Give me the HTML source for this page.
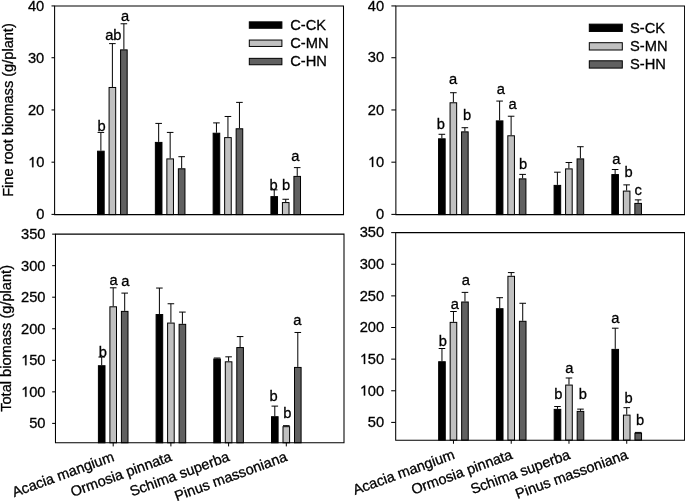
<!DOCTYPE html>
<html><head><meta charset="utf-8"><style>
html,body{margin:0;padding:0;background:#fff;}
svg{display:block;will-change:transform;}
text{font-family:"Liberation Sans", sans-serif;font-size:14.7px;fill:#000;stroke:#000;stroke-width:0.3px;}
</style></head><body>
<svg width="685" height="501" viewBox="0 0 685 501">
<line x1="100.88" y1="150.69" x2="100.88" y2="132.41" stroke="#000" stroke-width="1"/>
<line x1="97.58" y1="132.41" x2="104.18" y2="132.41" stroke="#000" stroke-width="1"/>
<rect x="97.58" y="151.19" width="6.6" height="63.41" fill="#000000" stroke="#000" stroke-width="1"/>
<line x1="112.38" y1="86.97" x2="112.38" y2="43.62" stroke="#000" stroke-width="1"/>
<line x1="109.08" y1="43.62" x2="115.68" y2="43.62" stroke="#000" stroke-width="1"/>
<rect x="109.08" y="87.47" width="6.6" height="127.13" fill="#c0c0c0" stroke="#000" stroke-width="1"/>
<line x1="123.88" y1="49.37" x2="123.88" y2="23.78" stroke="#000" stroke-width="1"/>
<line x1="120.58" y1="23.78" x2="127.18" y2="23.78" stroke="#000" stroke-width="1"/>
<rect x="120.58" y="49.87" width="6.6" height="164.73" fill="#606060" stroke="#000" stroke-width="1"/>
<line x1="158.66" y1="141.91" x2="158.66" y2="123.42" stroke="#000" stroke-width="1"/>
<line x1="155.36" y1="123.42" x2="161.96" y2="123.42" stroke="#000" stroke-width="1"/>
<rect x="155.36" y="142.41" width="6.6" height="72.19" fill="#000000" stroke="#000" stroke-width="1"/>
<line x1="170.16" y1="158.41" x2="170.16" y2="132.41" stroke="#000" stroke-width="1"/>
<line x1="166.86" y1="132.41" x2="173.46" y2="132.41" stroke="#000" stroke-width="1"/>
<rect x="166.86" y="158.91" width="6.6" height="55.69" fill="#c0c0c0" stroke="#000" stroke-width="1"/>
<line x1="181.66" y1="168.29" x2="181.66" y2="156.69" stroke="#000" stroke-width="1"/>
<line x1="178.36" y1="156.69" x2="184.96" y2="156.69" stroke="#000" stroke-width="1"/>
<rect x="178.36" y="168.79" width="6.6" height="45.81" fill="#606060" stroke="#000" stroke-width="1"/>
<line x1="216.44" y1="132.72" x2="216.44" y2="122.9" stroke="#000" stroke-width="1"/>
<line x1="213.14" y1="122.9" x2="219.74" y2="122.9" stroke="#000" stroke-width="1"/>
<rect x="213.14" y="133.22" width="6.6" height="81.38" fill="#000000" stroke="#000" stroke-width="1"/>
<line x1="227.94" y1="137.11" x2="227.94" y2="116.48" stroke="#000" stroke-width="1"/>
<line x1="224.64" y1="116.48" x2="231.24" y2="116.48" stroke="#000" stroke-width="1"/>
<rect x="224.64" y="137.61" width="6.6" height="76.99" fill="#c0c0c0" stroke="#000" stroke-width="1"/>
<line x1="239.44" y1="128.28" x2="239.44" y2="102.38" stroke="#000" stroke-width="1"/>
<line x1="236.14" y1="102.38" x2="242.74" y2="102.38" stroke="#000" stroke-width="1"/>
<rect x="236.14" y="128.78" width="6.6" height="85.82" fill="#606060" stroke="#000" stroke-width="1"/>
<line x1="274.22" y1="196.12" x2="274.22" y2="189.85" stroke="#000" stroke-width="1"/>
<line x1="270.92" y1="189.85" x2="277.52" y2="189.85" stroke="#000" stroke-width="1"/>
<rect x="270.92" y="196.62" width="6.6" height="17.98" fill="#000000" stroke="#000" stroke-width="1"/>
<line x1="285.72" y1="202.07" x2="285.72" y2="199.25" stroke="#000" stroke-width="1"/>
<line x1="282.42" y1="199.25" x2="289.02" y2="199.25" stroke="#000" stroke-width="1"/>
<rect x="282.42" y="202.57" width="6.6" height="12.03" fill="#c0c0c0" stroke="#000" stroke-width="1"/>
<line x1="297.22" y1="175.91" x2="297.22" y2="167.61" stroke="#000" stroke-width="1"/>
<line x1="293.92" y1="167.61" x2="300.52" y2="167.61" stroke="#000" stroke-width="1"/>
<rect x="293.92" y="176.41" width="6.6" height="38.19" fill="#606060" stroke="#000" stroke-width="1"/>
<path d="M 54.6 5.93 H 343.5 V 214.6 H 54.6 Z" fill="none" stroke="#000" stroke-width="1.05"/>
<line x1="51.5" y1="214.4" x2="54.6" y2="214.4" stroke="#000" stroke-width="1.05"/>
<text x="44.3" y="219.4" text-anchor="end">0</text>
<line x1="51.5" y1="162.18" x2="54.6" y2="162.18" stroke="#000" stroke-width="1.05"/>
<text x="44.3" y="167.18" text-anchor="end">0</text>
<path d="M 33.43 167.18 L 32.13 167.18 L 32.13 158.94 C 31.83 159.24, 31.42 159.54, 30.91 159.83 C 30.48 160.08, 30.1 160.28, 29.78 160.43 L 29.78 159.21 C 30.43 158.88, 30.96 158.48, 31.47 158 C 32.01 157.51, 32.4 157.2, 32.59 157.06 L 33.43 157.06 Z" fill="#000" stroke="#000" stroke-width="0.3"/>
<line x1="51.5" y1="109.95" x2="54.6" y2="109.95" stroke="#000" stroke-width="1.05"/>
<text x="44.3" y="114.95" text-anchor="end">20</text>
<line x1="51.5" y1="57.72" x2="54.6" y2="57.72" stroke="#000" stroke-width="1.05"/>
<text x="44.3" y="62.72" text-anchor="end">30</text>
<line x1="51.5" y1="5.93" x2="54.6" y2="5.93" stroke="#000" stroke-width="1.05"/>
<text x="44.3" y="10.93" text-anchor="end">40</text>
<text x="101.5" y="130.5" text-anchor="middle">b</text>
<text x="113.35" y="39.5" text-anchor="middle">ab</text>
<text x="125.2" y="21" text-anchor="middle">a</text>
<text x="273.7" y="190.4" text-anchor="middle">b</text>
<text x="286" y="190.4" text-anchor="middle">b</text>
<text x="295.35" y="160.7" text-anchor="middle">a</text>
<line x1="441.86" y1="138.31" x2="441.86" y2="134.29" stroke="#000" stroke-width="1"/>
<line x1="438.56" y1="134.29" x2="445.16" y2="134.29" stroke="#000" stroke-width="1"/>
<rect x="438.56" y="138.81" width="6.6" height="75.79" fill="#000000" stroke="#000" stroke-width="1"/>
<line x1="453.36" y1="102.27" x2="453.36" y2="92.72" stroke="#000" stroke-width="1"/>
<line x1="450.06" y1="92.72" x2="456.66" y2="92.72" stroke="#000" stroke-width="1"/>
<rect x="450.06" y="102.77" width="6.6" height="111.83" fill="#c0c0c0" stroke="#000" stroke-width="1"/>
<line x1="464.86" y1="131.36" x2="464.86" y2="127.71" stroke="#000" stroke-width="1"/>
<line x1="461.56" y1="127.71" x2="468.16" y2="127.71" stroke="#000" stroke-width="1"/>
<rect x="461.56" y="131.86" width="6.6" height="82.74" fill="#606060" stroke="#000" stroke-width="1"/>
<line x1="499.62" y1="120.39" x2="499.62" y2="101.07" stroke="#000" stroke-width="1"/>
<line x1="496.32" y1="101.07" x2="502.92" y2="101.07" stroke="#000" stroke-width="1"/>
<rect x="496.32" y="120.89" width="6.6" height="93.7" fill="#000000" stroke="#000" stroke-width="1"/>
<line x1="511.12" y1="135.28" x2="511.12" y2="116.22" stroke="#000" stroke-width="1"/>
<line x1="507.82" y1="116.22" x2="514.42" y2="116.22" stroke="#000" stroke-width="1"/>
<rect x="507.82" y="135.78" width="6.6" height="78.82" fill="#c0c0c0" stroke="#000" stroke-width="1"/>
<line x1="522.62" y1="178.36" x2="522.62" y2="174.4" stroke="#000" stroke-width="1"/>
<line x1="519.32" y1="174.4" x2="525.92" y2="174.4" stroke="#000" stroke-width="1"/>
<rect x="519.32" y="178.86" width="6.6" height="35.74" fill="#606060" stroke="#000" stroke-width="1"/>
<line x1="557.38" y1="184.89" x2="557.38" y2="172.2" stroke="#000" stroke-width="1"/>
<line x1="554.08" y1="172.2" x2="560.68" y2="172.2" stroke="#000" stroke-width="1"/>
<rect x="554.08" y="185.39" width="6.6" height="29.21" fill="#000000" stroke="#000" stroke-width="1"/>
<line x1="568.88" y1="168.39" x2="568.88" y2="162.49" stroke="#000" stroke-width="1"/>
<line x1="565.58" y1="162.49" x2="572.18" y2="162.49" stroke="#000" stroke-width="1"/>
<rect x="565.58" y="168.89" width="6.6" height="45.71" fill="#c0c0c0" stroke="#000" stroke-width="1"/>
<line x1="580.38" y1="158.41" x2="580.38" y2="146.72" stroke="#000" stroke-width="1"/>
<line x1="577.08" y1="146.72" x2="583.68" y2="146.72" stroke="#000" stroke-width="1"/>
<rect x="577.08" y="158.91" width="6.6" height="55.69" fill="#606060" stroke="#000" stroke-width="1"/>
<line x1="615.14" y1="174.08" x2="615.14" y2="169.49" stroke="#000" stroke-width="1"/>
<line x1="611.84" y1="169.49" x2="618.44" y2="169.49" stroke="#000" stroke-width="1"/>
<rect x="611.84" y="174.58" width="6.6" height="40.02" fill="#000000" stroke="#000" stroke-width="1"/>
<line x1="626.64" y1="190.59" x2="626.64" y2="184.89" stroke="#000" stroke-width="1"/>
<line x1="623.34" y1="184.89" x2="629.94" y2="184.89" stroke="#000" stroke-width="1"/>
<rect x="623.34" y="191.09" width="6.6" height="23.51" fill="#c0c0c0" stroke="#000" stroke-width="1"/>
<line x1="638.14" y1="202.91" x2="638.14" y2="199.88" stroke="#000" stroke-width="1"/>
<line x1="634.84" y1="199.88" x2="641.44" y2="199.88" stroke="#000" stroke-width="1"/>
<rect x="634.84" y="203.41" width="6.6" height="11.19" fill="#606060" stroke="#000" stroke-width="1"/>
<path d="M 395.87 5.93 H 684.6 V 214.6 H 395.87 Z" fill="none" stroke="#000" stroke-width="1.05"/>
<line x1="391.37" y1="214.4" x2="395.87" y2="214.4" stroke="#000" stroke-width="1.05"/>
<text x="384.1" y="219.1" text-anchor="end">0</text>
<line x1="391.37" y1="162.18" x2="395.87" y2="162.18" stroke="#000" stroke-width="1.05"/>
<text x="384.1" y="166.88" text-anchor="end">0</text>
<path d="M 373.23 166.88 L 371.93 166.88 L 371.93 158.64 C 371.63 158.94, 371.22 159.24, 370.71 159.53 C 370.28 159.78, 369.9 159.98, 369.58 160.13 L 369.58 158.91 C 370.23 158.58, 370.76 158.18, 371.27 157.7 C 371.81 157.21, 372.2 156.9, 372.39 156.76 L 373.23 156.76 Z" fill="#000" stroke="#000" stroke-width="0.3"/>
<line x1="391.37" y1="109.95" x2="395.87" y2="109.95" stroke="#000" stroke-width="1.05"/>
<text x="384.1" y="114.65" text-anchor="end">20</text>
<line x1="391.37" y1="57.72" x2="395.87" y2="57.72" stroke="#000" stroke-width="1.05"/>
<text x="384.1" y="62.42" text-anchor="end">30</text>
<line x1="391.37" y1="5.93" x2="395.87" y2="5.93" stroke="#000" stroke-width="1.05"/>
<text x="384.1" y="10.63" text-anchor="end">40</text>
<text x="440.9" y="129.4" text-anchor="middle">b</text>
<text x="453.2" y="84.2" text-anchor="middle">a</text>
<text x="467.1" y="120.4" text-anchor="middle">b</text>
<text x="500.8" y="93.9" text-anchor="middle">a</text>
<text x="512.6" y="109.2" text-anchor="middle">a</text>
<text x="523.1" y="169.4" text-anchor="middle">b</text>
<text x="616.4" y="163.6" text-anchor="middle">a</text>
<text x="628.5" y="177.3" text-anchor="middle">b</text>
<text x="638.1" y="195.3" text-anchor="middle">c</text>
<line x1="101.7" y1="365.22" x2="101.7" y2="357.02" stroke="#000" stroke-width="1"/>
<line x1="98.4" y1="357.02" x2="105" y2="357.02" stroke="#000" stroke-width="1"/>
<rect x="98.4" y="365.72" width="6.6" height="77.08" fill="#000000" stroke="#000" stroke-width="1"/>
<line x1="113.2" y1="306.29" x2="113.2" y2="287.8" stroke="#000" stroke-width="1"/>
<line x1="109.9" y1="287.8" x2="116.5" y2="287.8" stroke="#000" stroke-width="1"/>
<rect x="109.9" y="306.79" width="6.6" height="136.01" fill="#c0c0c0" stroke="#000" stroke-width="1"/>
<line x1="124.7" y1="310.89" x2="124.7" y2="293.1" stroke="#000" stroke-width="1"/>
<line x1="121.4" y1="293.1" x2="128" y2="293.1" stroke="#000" stroke-width="1"/>
<rect x="121.4" y="311.39" width="6.6" height="131.41" fill="#606060" stroke="#000" stroke-width="1"/>
<line x1="113.2" y1="442.8" x2="113.2" y2="446.4" stroke="#000" stroke-width="1"/>
<text x="115" y="460.6" text-anchor="end" style="font-size:14.5px" transform="rotate(-20 115 460.6)">Acacia mangium</text>
<line x1="159.4" y1="314.05" x2="159.4" y2="288.05" stroke="#000" stroke-width="1"/>
<line x1="156.1" y1="288.05" x2="162.7" y2="288.05" stroke="#000" stroke-width="1"/>
<rect x="156.1" y="314.55" width="6.6" height="128.25" fill="#000000" stroke="#000" stroke-width="1"/>
<line x1="170.9" y1="322.57" x2="170.9" y2="303.76" stroke="#000" stroke-width="1"/>
<line x1="167.6" y1="303.76" x2="174.2" y2="303.76" stroke="#000" stroke-width="1"/>
<rect x="167.6" y="323.07" width="6.6" height="119.73" fill="#c0c0c0" stroke="#000" stroke-width="1"/>
<line x1="182.4" y1="323.83" x2="182.4" y2="312.09" stroke="#000" stroke-width="1"/>
<line x1="179.1" y1="312.09" x2="185.7" y2="312.09" stroke="#000" stroke-width="1"/>
<rect x="179.1" y="324.33" width="6.6" height="118.47" fill="#606060" stroke="#000" stroke-width="1"/>
<line x1="170.9" y1="442.8" x2="170.9" y2="446.4" stroke="#000" stroke-width="1"/>
<text x="172.7" y="460.6" text-anchor="end" style="font-size:14.5px" transform="rotate(-20 172.7 460.6)">Ormosia pinnata</text>
<line x1="217.1" y1="358.53" x2="217.1" y2="358.03" stroke="#000" stroke-width="1"/>
<line x1="213.8" y1="358.03" x2="220.4" y2="358.03" stroke="#000" stroke-width="1"/>
<rect x="213.8" y="359.03" width="6.6" height="83.77" fill="#000000" stroke="#000" stroke-width="1"/>
<line x1="228.6" y1="361.31" x2="228.6" y2="356.83" stroke="#000" stroke-width="1"/>
<line x1="225.3" y1="356.83" x2="231.9" y2="356.83" stroke="#000" stroke-width="1"/>
<rect x="225.3" y="361.81" width="6.6" height="80.99" fill="#c0c0c0" stroke="#000" stroke-width="1"/>
<line x1="240.1" y1="347.05" x2="240.1" y2="336.57" stroke="#000" stroke-width="1"/>
<line x1="236.8" y1="336.57" x2="243.4" y2="336.57" stroke="#000" stroke-width="1"/>
<rect x="236.8" y="347.55" width="6.6" height="95.25" fill="#606060" stroke="#000" stroke-width="1"/>
<line x1="228.6" y1="442.8" x2="228.6" y2="446.4" stroke="#000" stroke-width="1"/>
<text x="230.4" y="460.6" text-anchor="end" style="font-size:14.5px" transform="rotate(-20 230.4 460.6)">Schima superba</text>
<line x1="274.8" y1="416.21" x2="274.8" y2="406.11" stroke="#000" stroke-width="1"/>
<line x1="271.5" y1="406.11" x2="278.1" y2="406.11" stroke="#000" stroke-width="1"/>
<rect x="271.5" y="416.71" width="6.6" height="26.09" fill="#000000" stroke="#000" stroke-width="1"/>
<line x1="286.3" y1="426.18" x2="286.3" y2="425.67" stroke="#000" stroke-width="1"/>
<line x1="283" y1="425.67" x2="289.6" y2="425.67" stroke="#000" stroke-width="1"/>
<rect x="283" y="426.68" width="6.6" height="16.12" fill="#c0c0c0" stroke="#000" stroke-width="1"/>
<line x1="297.8" y1="366.93" x2="297.8" y2="332.47" stroke="#000" stroke-width="1"/>
<line x1="294.5" y1="332.47" x2="301.1" y2="332.47" stroke="#000" stroke-width="1"/>
<rect x="294.5" y="367.43" width="6.6" height="75.37" fill="#606060" stroke="#000" stroke-width="1"/>
<line x1="286.3" y1="442.8" x2="286.3" y2="446.4" stroke="#000" stroke-width="1"/>
<text x="288.1" y="460.6" text-anchor="end" style="font-size:14.5px" transform="rotate(-20 288.1 460.6)">Pinus massoniana</text>
<path d="M 55.47 234.14 H 344 V 442.8 H 55.47 Z" fill="none" stroke="#000" stroke-width="1.05"/>
<line x1="52.17" y1="423.4" x2="55.47" y2="423.4" stroke="#000" stroke-width="1.05"/>
<text x="45.5" y="428.3" text-anchor="end">50</text>
<line x1="52.17" y1="391.85" x2="55.47" y2="391.85" stroke="#000" stroke-width="1.05"/>
<text x="45.5" y="396.75" text-anchor="end">00</text>
<path d="M 26.45 396.75 L 25.16 396.75 L 25.16 388.52 C 24.85 388.81, 24.44 389.11, 23.94 389.41 C 23.51 389.66, 23.13 389.86, 22.8 390 L 22.8 388.78 C 23.45 388.46, 23.99 388.05, 24.49 387.58 C 25.04 387.09, 25.42 386.77, 25.61 386.64 L 26.45 386.64 Z" fill="#000" stroke="#000" stroke-width="0.3"/>
<line x1="52.17" y1="360.3" x2="55.47" y2="360.3" stroke="#000" stroke-width="1.05"/>
<text x="45.5" y="365.2" text-anchor="end">50</text>
<path d="M 26.45 365.2 L 25.16 365.2 L 25.16 356.97 C 24.85 357.26, 24.44 357.56, 23.94 357.86 C 23.51 358.11, 23.13 358.31, 22.8 358.45 L 22.8 357.23 C 23.45 356.91, 23.99 356.5, 24.49 356.03 C 25.04 355.54, 25.42 355.22, 25.61 355.09 L 26.45 355.09 Z" fill="#000" stroke="#000" stroke-width="0.3"/>
<line x1="52.17" y1="328.75" x2="55.47" y2="328.75" stroke="#000" stroke-width="1.05"/>
<text x="45.5" y="333.65" text-anchor="end">200</text>
<line x1="52.17" y1="297.2" x2="55.47" y2="297.2" stroke="#000" stroke-width="1.05"/>
<text x="45.5" y="302.1" text-anchor="end">250</text>
<line x1="52.17" y1="265.65" x2="55.47" y2="265.65" stroke="#000" stroke-width="1.05"/>
<text x="45.5" y="270.55" text-anchor="end">300</text>
<line x1="52.17" y1="234.14" x2="55.47" y2="234.14" stroke="#000" stroke-width="1.05"/>
<text x="45.5" y="239.04" text-anchor="end">350</text>
<text x="102.85" y="357.4" text-anchor="middle">b</text>
<text x="113.65" y="284.7" text-anchor="middle">a</text>
<text x="125.3" y="285.6" text-anchor="middle">a</text>
<text x="273.6" y="400.8" text-anchor="middle">b</text>
<text x="287.4" y="417.7" text-anchor="middle">b</text>
<text x="297.4" y="324.8" text-anchor="middle">a</text>
<line x1="441.96" y1="361.23" x2="441.96" y2="348.51" stroke="#000" stroke-width="1"/>
<line x1="438.66" y1="348.51" x2="445.26" y2="348.51" stroke="#000" stroke-width="1"/>
<rect x="438.66" y="361.73" width="6.6" height="78.42" fill="#000000" stroke="#000" stroke-width="1"/>
<line x1="453.46" y1="321.87" x2="453.46" y2="311.5" stroke="#000" stroke-width="1"/>
<line x1="450.16" y1="311.5" x2="456.76" y2="311.5" stroke="#000" stroke-width="1"/>
<rect x="450.16" y="322.37" width="6.6" height="117.78" fill="#c0c0c0" stroke="#000" stroke-width="1"/>
<line x1="464.96" y1="301.5" x2="464.96" y2="292.39" stroke="#000" stroke-width="1"/>
<line x1="461.66" y1="292.39" x2="468.26" y2="292.39" stroke="#000" stroke-width="1"/>
<rect x="461.66" y="302" width="6.6" height="138.15" fill="#606060" stroke="#000" stroke-width="1"/>
<line x1="453.46" y1="440.15" x2="453.46" y2="443.75" stroke="#000" stroke-width="1"/>
<text x="455.66" y="458.45" text-anchor="end" style="font-size:14.5px" transform="rotate(-20 455.66 458.45)">Acacia mangium</text>
<line x1="499.72" y1="308.21" x2="499.72" y2="297.7" stroke="#000" stroke-width="1"/>
<line x1="496.42" y1="297.7" x2="503.02" y2="297.7" stroke="#000" stroke-width="1"/>
<rect x="496.42" y="308.71" width="6.6" height="131.44" fill="#000000" stroke="#000" stroke-width="1"/>
<line x1="511.22" y1="275.81" x2="511.22" y2="272.59" stroke="#000" stroke-width="1"/>
<line x1="507.92" y1="272.59" x2="514.52" y2="272.59" stroke="#000" stroke-width="1"/>
<rect x="507.92" y="276.31" width="6.6" height="163.84" fill="#c0c0c0" stroke="#000" stroke-width="1"/>
<line x1="522.72" y1="320.8" x2="522.72" y2="303.27" stroke="#000" stroke-width="1"/>
<line x1="519.42" y1="303.27" x2="526.02" y2="303.27" stroke="#000" stroke-width="1"/>
<rect x="519.42" y="321.3" width="6.6" height="118.85" fill="#606060" stroke="#000" stroke-width="1"/>
<line x1="511.22" y1="440.15" x2="511.22" y2="443.75" stroke="#000" stroke-width="1"/>
<text x="513.42" y="458.45" text-anchor="end" style="font-size:14.5px" transform="rotate(-20 513.42 458.45)">Ormosia pinnata</text>
<line x1="557.48" y1="408.87" x2="557.48" y2="406.53" stroke="#000" stroke-width="1"/>
<line x1="554.18" y1="406.53" x2="560.78" y2="406.53" stroke="#000" stroke-width="1"/>
<rect x="554.18" y="409.37" width="6.6" height="30.78" fill="#000000" stroke="#000" stroke-width="1"/>
<line x1="568.98" y1="384.57" x2="568.98" y2="377.99" stroke="#000" stroke-width="1"/>
<line x1="565.68" y1="377.99" x2="572.28" y2="377.99" stroke="#000" stroke-width="1"/>
<rect x="565.68" y="385.07" width="6.6" height="55.08" fill="#c0c0c0" stroke="#000" stroke-width="1"/>
<line x1="580.48" y1="410.89" x2="580.48" y2="409.12" stroke="#000" stroke-width="1"/>
<line x1="577.18" y1="409.12" x2="583.78" y2="409.12" stroke="#000" stroke-width="1"/>
<rect x="577.18" y="411.39" width="6.6" height="28.76" fill="#606060" stroke="#000" stroke-width="1"/>
<line x1="568.98" y1="440.15" x2="568.98" y2="443.75" stroke="#000" stroke-width="1"/>
<text x="571.18" y="458.45" text-anchor="end" style="font-size:14.5px" transform="rotate(-20 571.18 458.45)">Schima superba</text>
<line x1="615.24" y1="348.89" x2="615.24" y2="328.2" stroke="#000" stroke-width="1"/>
<line x1="611.94" y1="328.2" x2="618.54" y2="328.2" stroke="#000" stroke-width="1"/>
<rect x="611.94" y="349.39" width="6.6" height="90.76" fill="#000000" stroke="#000" stroke-width="1"/>
<line x1="626.74" y1="414.63" x2="626.74" y2="407.67" stroke="#000" stroke-width="1"/>
<line x1="623.44" y1="407.67" x2="630.04" y2="407.67" stroke="#000" stroke-width="1"/>
<rect x="623.44" y="415.13" width="6.6" height="25.02" fill="#c0c0c0" stroke="#000" stroke-width="1"/>
<line x1="638.24" y1="432.79" x2="638.24" y2="432.41" stroke="#000" stroke-width="1"/>
<line x1="634.94" y1="432.41" x2="641.54" y2="432.41" stroke="#000" stroke-width="1"/>
<rect x="634.94" y="433.29" width="6.6" height="6.86" fill="#606060" stroke="#000" stroke-width="1"/>
<line x1="626.74" y1="440.15" x2="626.74" y2="443.75" stroke="#000" stroke-width="1"/>
<text x="628.94" y="458.45" text-anchor="end" style="font-size:14.5px" transform="rotate(-20 628.94 458.45)">Pinus massoniana</text>
<path d="M 395.69 232.62 H 684.6 V 440.15 H 395.69 Z" fill="none" stroke="#000" stroke-width="1.05"/>
<line x1="391.19" y1="422.41" x2="395.69" y2="422.41" stroke="#000" stroke-width="1.05"/>
<text x="384.2" y="427.16" text-anchor="end">50</text>
<line x1="391.19" y1="390.77" x2="395.69" y2="390.77" stroke="#000" stroke-width="1.05"/>
<text x="384.2" y="395.52" text-anchor="end">00</text>
<path d="M 365.15 395.52 L 363.86 395.52 L 363.86 387.29 C 363.55 387.59, 363.14 387.89, 362.64 388.18 C 362.21 388.43, 361.83 388.63, 361.5 388.78 L 361.5 387.56 C 362.15 387.23, 362.69 386.83, 363.19 386.35 C 363.74 385.86, 364.12 385.55, 364.31 385.41 L 365.15 385.41 Z" fill="#000" stroke="#000" stroke-width="0.3"/>
<line x1="391.19" y1="359.14" x2="395.69" y2="359.14" stroke="#000" stroke-width="1.05"/>
<text x="384.2" y="363.89" text-anchor="end">50</text>
<path d="M 365.15 363.89 L 363.86 363.89 L 363.86 355.66 C 363.55 355.95, 363.14 356.25, 362.64 356.55 C 362.21 356.8, 361.83 357, 361.5 357.14 L 361.5 355.92 C 362.15 355.6, 362.69 355.19, 363.19 354.72 C 363.74 354.23, 364.12 353.91, 364.31 353.78 L 365.15 353.78 Z" fill="#000" stroke="#000" stroke-width="0.3"/>
<line x1="391.19" y1="327.5" x2="395.69" y2="327.5" stroke="#000" stroke-width="1.05"/>
<text x="384.2" y="332.25" text-anchor="end">200</text>
<line x1="391.19" y1="295.87" x2="395.69" y2="295.87" stroke="#000" stroke-width="1.05"/>
<text x="384.2" y="300.62" text-anchor="end">250</text>
<line x1="391.19" y1="264.24" x2="395.69" y2="264.24" stroke="#000" stroke-width="1.05"/>
<text x="384.2" y="268.99" text-anchor="end">300</text>
<line x1="391.19" y1="232.62" x2="395.69" y2="232.62" stroke="#000" stroke-width="1.05"/>
<text x="384.2" y="237.37" text-anchor="end">350</text>
<text x="442.85" y="345.7" text-anchor="middle">b</text>
<text x="454.8" y="309" text-anchor="middle">a</text>
<text x="465.8" y="285.1" text-anchor="middle">a</text>
<text x="558.3" y="399.4" text-anchor="middle">b</text>
<text x="569.4" y="372.5" text-anchor="middle">a</text>
<text x="582.75" y="399.4" text-anchor="middle">b</text>
<text x="615.3" y="323.1" text-anchor="middle">a</text>
<text x="628.6" y="402.5" text-anchor="middle">b</text>
<text x="640" y="425.2" text-anchor="middle">b</text>
<rect x="249.3" y="21.85" width="32.6" height="6.4" fill="#000000" stroke="#000" stroke-width="1"/>
<text x="290.2" y="29.6">C-CK</text>
<rect x="249.3" y="40.05" width="32.6" height="6.4" fill="#c0c0c0" stroke="#000" stroke-width="1"/>
<text x="290.2" y="47.95">C-MN</text>
<rect x="249.3" y="58.35" width="32.6" height="6.4" fill="#606060" stroke="#000" stroke-width="1"/>
<text x="290.2" y="66.3">C-HN</text>
<rect x="589.3" y="24.15" width="33" height="7.3" fill="#000000" stroke="#000" stroke-width="1"/>
<text x="630" y="32.7">S-CK</text>
<rect x="589.3" y="42.7" width="33" height="7.3" fill="#c0c0c0" stroke="#000" stroke-width="1"/>
<text x="630" y="51">S-MN</text>
<rect x="589.3" y="60.8" width="33" height="7.3" fill="#606060" stroke="#000" stroke-width="1"/>
<text x="630" y="69.2">S-HN</text>
<text x="0" y="0" text-anchor="middle" style="font-size:14.6px" transform="translate(12.7 110) rotate(-90)">Fine root biomass (g/plant)</text>
<text x="0" y="0" text-anchor="middle" style="font-size:14.6px" transform="translate(10.8 338.4) rotate(-90)">Total biomass (g/plant)</text>
</svg>
</body></html>
